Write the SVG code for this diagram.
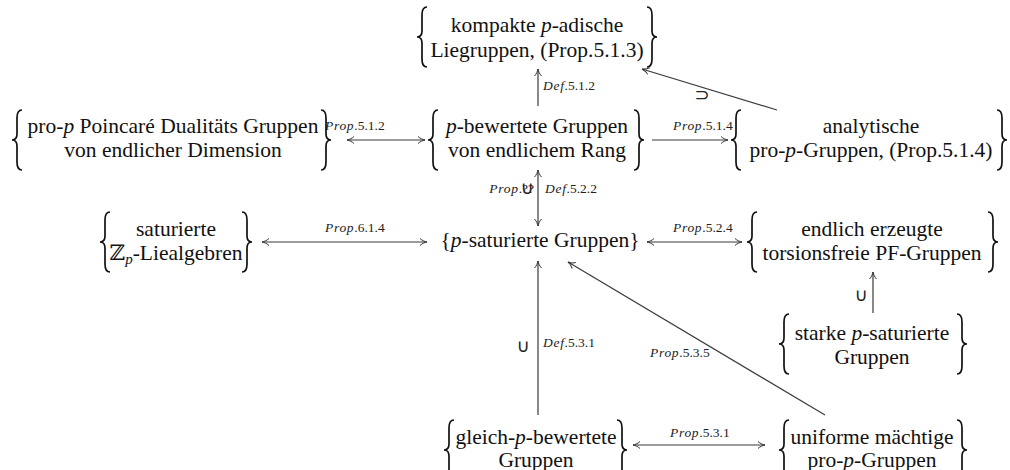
<svg xmlns="http://www.w3.org/2000/svg" xmlns:xlink="http://www.w3.org/1999/xlink" width="1010" height="470" viewBox="0 0 1010 470">
<style>
.t{font-family:"Liberation Serif","DejaVu Serif",serif;font-size:21.5px;fill:#111;text-anchor:middle}
.it{font-style:italic}
.lbl{font-family:"Liberation Serif","DejaVu Serif",serif;font-size:13.5px;fill:#222}
.li{font-style:italic;letter-spacing:0.7px}
.sym{font-family:"DejaVu Sans",sans-serif;font-size:18px;fill:#222;text-anchor:middle}
.br{fill:none;stroke:#111;stroke-width:1.7}
.c{fill:none;stroke:#3a3a3a;stroke-width:1.2}
.bb{font-family:"DejaVu Serif",serif}
</style>
<defs>
<path id="lb" class="br" d="M10,0 C6,0 5,3 5,8 L5,24 C5,28 3,30 0,30 C3,30 5,32 5,36 L5,52 C5,57 6,60 10,60"/>
<path id="rb" class="br" d="M0,0 C4,0 5,3 5,8 L5,24 C5,28 7,30 10,30 C7,30 5,32 5,36 L5,52 C5,57 4,60 0,60"/>
<marker id="ah" viewBox="-8 -5 10 10" refX="0" refY="0" markerWidth="10" markerHeight="10" markerUnits="userSpaceOnUse" orient="auto-start-reverse">
<path d="M-7,-3.5 C-5,-1.5 -2,-0.4 0,0 C-2,0.4 -5,1.5 -7,3.5" fill="none" stroke="#333" stroke-width="1"/>
</marker>
</defs>

<g id="connectors">
<line class="c" x1="538" y1="106" x2="538" y2="69" marker-end="url(#ah)"/>
<line class="c" x1="777" y1="110" x2="642" y2="69" marker-end="url(#ah)"/>
<line class="c" x1="347" y1="140" x2="425" y2="140" marker-start="url(#ah)" marker-end="url(#ah)"/>
<line class="c" x1="652" y1="140" x2="728" y2="140" marker-end="url(#ah)"/>
<line class="c" x1="538" y1="170" x2="538" y2="226" marker-start="url(#ah)" marker-end="url(#ah)"/>
<line class="c" x1="262" y1="242" x2="427" y2="242" marker-start="url(#ah)" marker-end="url(#ah)"/>
<line class="c" x1="647" y1="242" x2="742" y2="242" marker-start="url(#ah)" marker-end="url(#ah)"/>
<line class="c" x1="873" y1="313" x2="873" y2="272" marker-end="url(#ah)"/>
<line class="c" x1="538" y1="415" x2="538" y2="261" marker-end="url(#ah)"/>
<line class="c" x1="825" y1="415" x2="568" y2="262" marker-end="url(#ah)"/>
<line class="c" x1="633" y1="445" x2="765" y2="445" marker-start="url(#ah)" marker-end="url(#ah)"/>
<text class="lbl" x="543" y="90"><tspan class="li">Def</tspan>.5.1.2</text>
<text class="sym" x="702" y="101" font-size="15">⊃</text>
<text class="lbl" x="325" y="130"><tspan class="li">Prop</tspan>.5.1.2</text>
<text class="lbl" x="673" y="130"><tspan class="li">Prop</tspan>.5.1.4</text>
<text class="lbl" x="534" y="193" text-anchor="end"><tspan class="li">Prop</tspan>.??</text>
<text class="sym" x="527" y="194">∪</text>
<text class="lbl" x="545" y="193"><tspan class="li">Def</tspan>.5.2.2</text>
<text class="lbl" x="325" y="232"><tspan class="li">Prop</tspan>.6.1.4</text>
<text class="lbl" x="673" y="232"><tspan class="li">Prop</tspan>.5.2.4</text>
<text class="sym" x="861" y="301">∪</text>
<text class="sym" x="523" y="352">∪</text>
<text class="lbl" x="543" y="347"><tspan class="li">Def</tspan>.5.3.1</text>
<text class="lbl" x="650" y="357"><tspan class="li">Prop</tspan>.5.3.5</text>
<text class="lbl" x="670" y="437"><tspan class="li">Prop</tspan>.5.3.1</text>
</g>

<g id="kompakte">
<use xlink:href="#lb" x="417" y="7"/><use xlink:href="#rb" x="647" y="7"/>
<text class="t" x="537" y="32">kompakte <tspan class="it">p</tspan>-adische</text>
<text class="t" x="537" y="57">Liegruppen, (Prop.5.1.3)</text>
</g>

<g id="poincare">
<use xlink:href="#lb" x="12" y="110"/><use xlink:href="#rb" x="321" y="110"/>
<text class="t" x="173" y="133">pro-<tspan class="it">p</tspan> Poincaré Dualitäts Gruppen</text>
<text class="t" x="173" y="157">von endlicher Dimension</text>
</g>

<g id="bewertete">
<use xlink:href="#lb" x="428" y="110"/><use xlink:href="#rb" x="634" y="110"/>
<text class="t" x="537" y="133"><tspan class="it">p</tspan>-bewertete Gruppen</text>
<text class="t" x="537" y="157">von endlichem Rang</text>
</g>

<g id="analytische">
<use xlink:href="#lb" x="731" y="110"/><use xlink:href="#rb" x="997" y="110"/>
<text class="t" x="871" y="133">analytische</text>
<text class="t" x="871" y="157">pro-<tspan class="it">p</tspan>-Gruppen, (Prop.5.1.4)</text>
</g>

<g id="liealgebren">
<use xlink:href="#lb" x="100" y="212"/><use xlink:href="#rb" x="242" y="212"/>
<text class="t" x="176" y="236">saturierte</text>
<text class="t" x="176" y="260"><tspan class="bb">ℤ</tspan><tspan class="it" font-size="15" dy="4">p</tspan><tspan dy="-4">-Liealgebren</tspan></text>
</g>

<g id="saturierte">
<text class="t" x="540" y="247">{<tspan class="it">p</tspan>-saturierte Gruppen}</text>
</g>

<g id="pfgruppen">
<use xlink:href="#lb" x="747" y="212"/><use xlink:href="#rb" x="988" y="212"/>
<text class="t" x="872" y="236">endlich erzeugte</text>
<text class="t" x="872" y="260">torsionsfreie PF-Gruppen</text>
</g>

<g id="starke">
<use xlink:href="#lb" x="779" y="314"/><use xlink:href="#rb" x="957" y="314"/>
<text class="t" x="872" y="340">starke <tspan class="it">p</tspan>-saturierte</text>
<text class="t" x="872" y="364">Gruppen</text>
</g>

<g id="gleich">
<use xlink:href="#lb" x="444" y="420"/><use xlink:href="#rb" x="617" y="420"/>
<text class="t" x="536" y="444">gleich-<tspan class="it">p</tspan>-bewertete</text>
<text class="t" x="536" y="467">Gruppen</text>
</g>

<g id="uniforme">
<use xlink:href="#lb" x="779" y="420"/><use xlink:href="#rb" x="957" y="420"/>
<text class="t" x="872" y="444">uniforme mächtige</text>
<text class="t" x="872" y="467">pro-<tspan class="it">p</tspan>-Gruppen</text>
</g>
</svg>
